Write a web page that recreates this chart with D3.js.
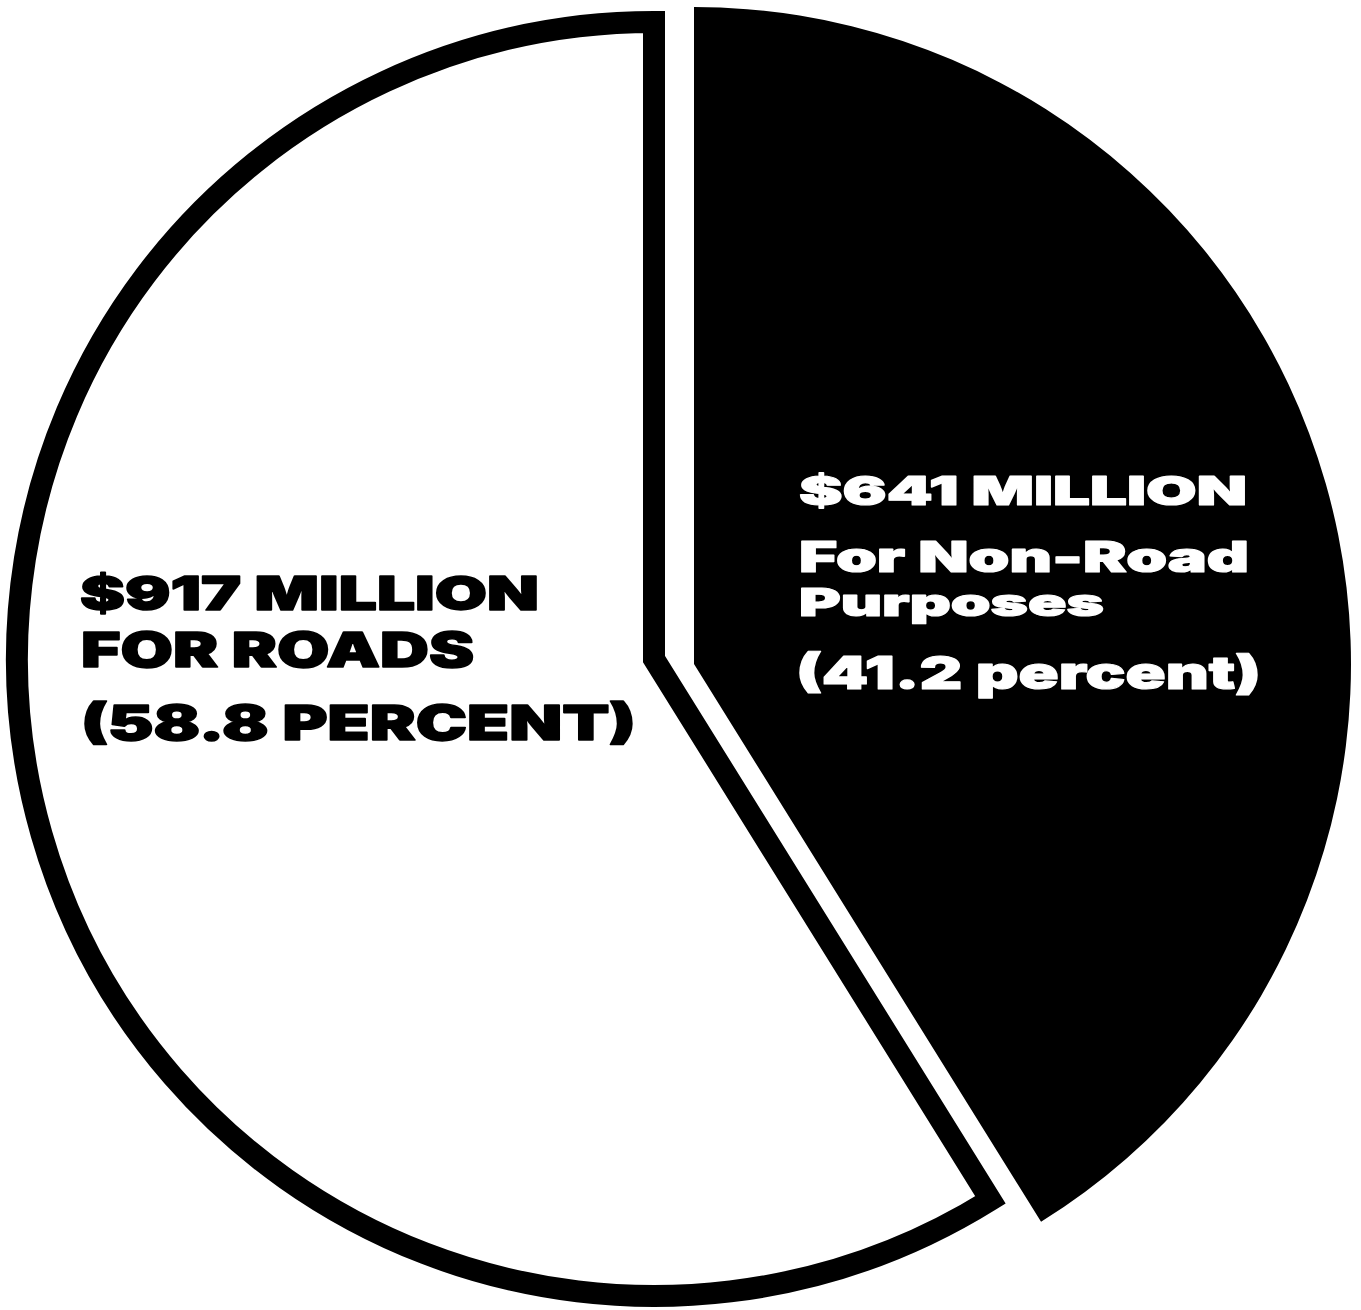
<!DOCTYPE html>
<html>
<head>
<meta charset="utf-8">
<script src="https://cdn.jsdelivr.net/npm/d3@7/dist/d3.min.js"></script>
<style>
  html, body { margin: 0; padding: 0; background: #fff; }
  svg { display: block; }
  text { font-family: Inter, Lato, "DejaVu Sans", sans-serif; font-weight: 900; }
</style>
</head>
<body>
<script>
// ---- data ----
const categories = ["Non-Road Purposes", "Roads"];
const values = [641, 917];          // $ millions
const percents = [41.2, 58.8];
const labelsNonRoad = ["$641 MILLION", "For Non-Road", "Purposes", "(41.2 percent)"];
const labelsRoads = ["$917 MILLION", "FOR ROADS", "(58.8 PERCENT)"];

// ---- layout ----
const W = 1361, H = 1310;
const svg = d3.select("body").append("svg").attr("width", W).attr("height", H);

const pie = d3.pie().sort(null).value(d => d.value);
const arcs = pie(categories.map((c, i) => ({ cat: c, value: values[i] })));

const blackCenter = [694, 664], blackR = 657;
const whiteCenter = [654, 659], whiteR = 637, strokeW = 22;

// black slice (non-road)
svg.append("g")
  .attr("transform", `translate(${blackCenter[0]},${blackCenter[1]})`)
  .append("path")
  .attr("d", d3.arc().innerRadius(0).outerRadius(blackR)(arcs[0]))
  .attr("fill", "#000");

// white slice with thick outline (roads)
svg.append("g")
  .attr("transform", `translate(${whiteCenter[0]},${whiteCenter[1]})`)
  .append("path")
  .attr("d", d3.arc().innerRadius(0).outerRadius(whiteR)(arcs[1]))
  .attr("fill", "#fff")
  .attr("stroke", "#000")
  .attr("stroke-width", strokeW)
  .attr("stroke-linejoin", "miter")
  .attr("stroke-miterlimit", 10);

// labels: [x, baseline y, font-size, width]
const nonRoadPos = [[799, 505, 40, 448], [799, 572, 42, 450], [799, 616, 39, 305], [796, 689, 46, 465]];
const roadPos = [[80, 610, 47, 459], [81, 667, 48, 393], [81, 740, 48, 555]];

svg.append("g").selectAll("text").data(labelsNonRoad).join("text")
  .attr("x", (d, i) => nonRoadPos[i][0])
  .attr("y", (d, i) => nonRoadPos[i][1])
  .attr("font-size", (d, i) => nonRoadPos[i][2])
  .attr("textLength", (d, i) => nonRoadPos[i][3])
  .attr("lengthAdjust", "spacingAndGlyphs")
  .attr("fill", "#fff")
  .attr("stroke", "#fff")
  .attr("stroke-width", 1.2)
  .attr("stroke-linejoin", "round")
  .text(d => d);

svg.append("g").selectAll("text").data(labelsRoads).join("text")
  .attr("x", (d, i) => roadPos[i][0])
  .attr("y", (d, i) => roadPos[i][1])
  .attr("font-size", (d, i) => roadPos[i][2])
  .attr("textLength", (d, i) => roadPos[i][3])
  .attr("lengthAdjust", "spacingAndGlyphs")
  .attr("fill", "#000")
  .attr("stroke", "#000")
  .attr("stroke-width", 1.5)
  .attr("stroke-linejoin", "round")
  .text(d => d);
</script>
</body>
</html>
